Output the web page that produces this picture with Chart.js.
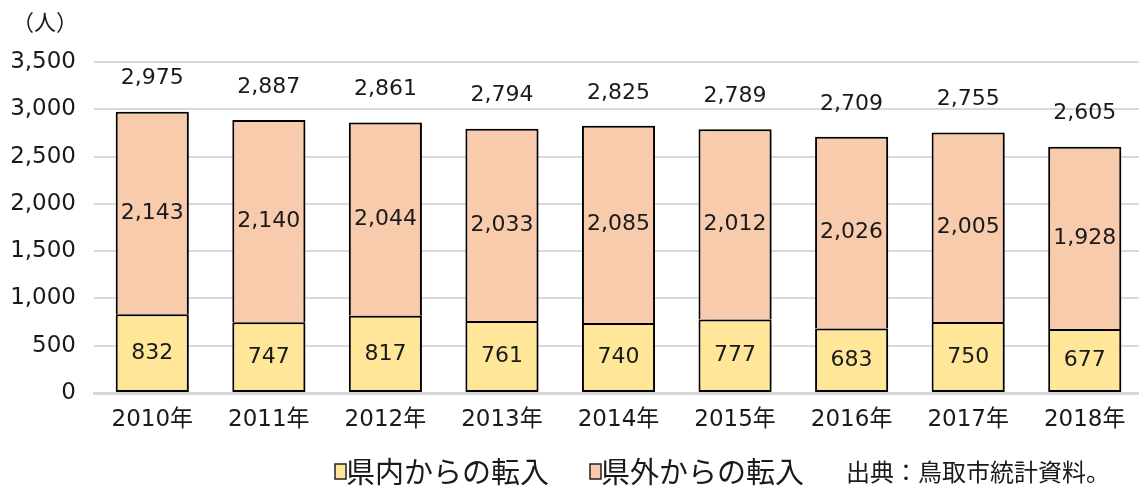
<!DOCTYPE html>
<html><head><meta charset="utf-8">
<script src="https://cdn.jsdelivr.net/npm/chart.js@4/dist/chart.umd.min.js"></script>
<style>
html,body{margin:0;padding:0;background:#fff;overflow:hidden;}
#wrap{width:1139px;height:488px;overflow:hidden;position:relative;}
#c{display:block;}
</style></head><body>
<div id="wrap"><canvas id="c" width="1143" height="488" style="width:1143px;height:488px"></canvas></div>
<script>
const categories = ['2010年','2011年','2012年','2013年','2014年','2015年','2016年','2017年','2018年'];
const inPref = [832,747,817,761,740,777,683,750,677];
const outPref = [2143,2140,2044,2033,2085,2012,2026,2005,1928];
const seriesNames = ['県内からの転入','県外からの転入'];
const yTicks = [0,500,1000,1500,2000,2500,3000,3500];
const unitLabel = '（人）';
const sourceNote = '出典：鳥取市統計資料。';

const NUMFONT = '"DejaVu Sans", "Noto Sans CJK JP", sans-serif';
const JPFONT = '"Noto Sans CJK JP", sans-serif';
const fmt = v => v.toLocaleString('en-US');

const shadowPlugin = {
  id:'shadow',
  beforeDatasetsDraw(chart){ const c=chart.ctx; c.save(); c.shadowColor='rgba(0,0,0,0.35)'; c.shadowBlur=5; c.shadowOffsetX=3; c.shadowOffsetY=2; },
  afterDatasetsDraw(chart){ chart.ctx.restore(); }
};

const labelPlugin = {
  id:'labels',
  afterDraw(chart){
    const c = chart.ctx;
    c.save();
    c.fillStyle='#1a1a1a';
    c.textAlign='center'; c.textBaseline='middle';
    c.font = '22px ' + NUMFONT;
    const m0 = chart.getDatasetMeta(0), m1 = chart.getDatasetMeta(1);
    categories.forEach((cat,i)=>{
      const b0 = m0.data[i], b1 = m1.data[i];
      c.fillText(fmt(inPref[i]), b0.x, (b0.y + b0.base)/2);
      c.fillText(fmt(outPref[i]), b1.x, (b1.y + b1.base)/2);
      c.fillText(fmt(inPref[i]+outPref[i]), b1.x, b1.y - 33);
    });
    c.textAlign='left';
    c.font = '22px ' + JPFONT;
    c.fillText(unitLabel, 12, 22);
    const colors = [chart.data.datasets[0].backgroundColor, chart.data.datasets[1].backgroundColor];
    const ly = 472;
    const xs = [335, 590];
    c.font = '29px ' + JPFONT;
    seriesNames.forEach((n,k)=>{
      c.fillStyle = colors[k];
      c.fillRect(xs[k], ly-8, 11, 15);
      c.strokeStyle = '#222'; c.lineWidth = 1.5;
      c.strokeRect(xs[k], ly-8, 11, 15);
      c.fillStyle = '#1a1a1a';
      c.fillText(n, xs[k]+11, ly);
    });
    c.font = '24px ' + JPFONT;
    c.fillText(sourceNote, 846, ly);
    c.restore();
  }
};

new Chart(document.getElementById('c'), {
  type:'bar',
  data:{
    labels: categories,
    datasets:[
      {label:seriesNames[0], data:inPref, backgroundColor:'#FFE699', borderColor:'#000', borderWidth:2, borderSkipped:false},
      {label:seriesNames[1], data:outPref, backgroundColor:'#F8CBAD', borderColor:'#000', borderWidth:2, borderSkipped:'bottom'}
    ]
  },
  options:{
    responsive:false, animation:false,
    layout:{padding:{top:62,left:0,right:0,bottom:50}},
    plugins:{legend:{display:false}, tooltip:{enabled:false}},
    datasets:{bar:{categoryPercentage:1, barPercentage:0.627}},
    scales:{
      x:{
        stacked:true,
        grid:{display:false, drawTicks:false},
        border:{display:true, color:'#d6d6d6', width:3},
        ticks:{font:{size:23, family:NUMFONT}, color:'#1a1a1a', padding:13, maxRotation:0},
        afterFit(s){ s.height = 45; }
      },
      y:{
        stacked:true, min:0, max:3500,
        afterBuildTicks(s){ s.ticks = yTicks.map(v=>({value:v})); },
        grid:{color:'#d9d9d9', lineWidth:2, drawTicks:false},
        border:{display:false},
        ticks:{font:{size:23, family:NUMFONT}, color:'#1a1a1a', padding:18, callback:v=>fmt(v)},
        afterFit(s){ s.width = 94; }
      }
    }
  },
  plugins:[shadowPlugin, labelPlugin]
});
</script></body></html>
